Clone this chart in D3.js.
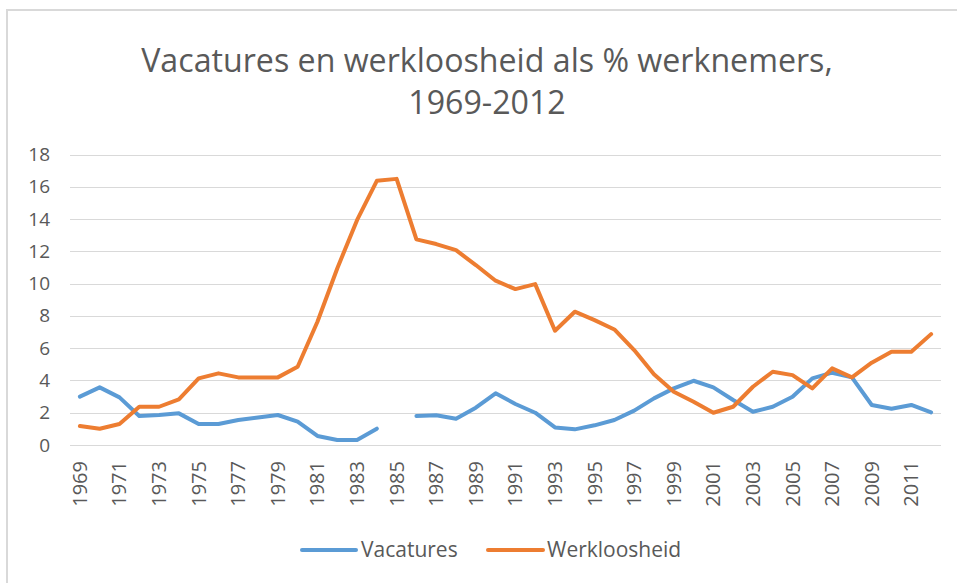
<!DOCTYPE html>
<html><head><meta charset="utf-8">
<script src="https://cdn.jsdelivr.net/npm/d3@7"></script>
<style>body{margin:0;background:#fff}svg{display:block}</style>
</head><body>
<svg id="c" width="957" height="583"></svg>
<script>
const years = d3.range(1969, 2013);
const vacatures = [3.0,3.57,2.95,1.8,1.86,1.96,1.3,1.3,1.55,1.71,1.86,1.45,0.56,0.31,0.31,1.01,null,1.8,1.84,1.63,2.31,3.2,2.54,2.0,1.09,0.97,1.22,1.55,2.13,2.89,3.51,3.98,3.57,2.79,2.06,2.37,2.99,4.13,4.48,4.19,2.48,2.25,2.48,2.02];
const werkloosheid = [1.18,1.01,1.3,2.37,2.37,2.83,4.13,4.44,4.19,4.19,4.19,4.85,7.64,10.94,13.93,16.37,16.49,12.74,12.45,12.07,11.15,10.18,9.66,9.97,7.08,8.26,7.74,7.16,5.88,4.38,3.3,2.68,2.0,2.37,3.61,4.54,4.33,3.51,4.75,4.19,5.1,5.78,5.78,6.87];
const yTicks = [0,2,4,6,8,10,12,14,16,18];
const titleLines = ["Vacatures en werkloosheid als % werknemers,", "1969-2012"];
const seriesNames = ["Vacatures", "Werkloosheid"];
const colors = ["#5B9BD5", "#ED7D31"];

(function(){
const svg = d3.select("#c");
const font = "'Open Sans', sans-serif";
const textColor = "#595959";

svg.append("rect").attr("x",7).attr("y",10).attr("width",970).attr("height",600)
  .attr("fill","none").attr("stroke","#d9d9d9").attr("stroke-width",2);

const pLeft = 70, pRight = 941, pTop = 154.5, pBottom = 445;
const x = d3.scaleBand().domain(years).range([pLeft, pRight]);
const y = d3.scaleLinear().domain([0,18]).range([pBottom, pTop]);

svg.append("g").selectAll("line").data(yTicks).join("line")
  .attr("x1", pLeft).attr("x2", pRight)
  .attr("y1", d => Math.round(y(d))+0.5).attr("y2", d => Math.round(y(d))+0.5)
  .attr("stroke", "#d9d9d9").attr("stroke-width", 1);

const yAxis = svg.append("g").attr("transform", `translate(${pLeft},0)`)
  .call(d3.axisLeft(y).tickValues(yTicks).tickSize(0).tickPadding(20));
yAxis.select(".domain").remove();
yAxis.selectAll("text").attr("font-family", font).attr("font-size", 19).attr("fill", textColor);

const xAxis = svg.append("g").attr("transform", `translate(0,${pBottom})`)
  .call(d3.axisBottom(x).tickValues(years.filter((d,i) => i%2===0)).tickSize(0));
xAxis.select(".domain").remove();
xAxis.selectAll("text")
  .attr("font-family", font).attr("font-size", 20).attr("fill", textColor)
  .attr("transform", "rotate(-90)")
  .attr("text-anchor", "end").attr("dy", "0.35em").attr("x", -16).attr("y", 0);

const cx = d => x(d) + x.bandwidth()/2;
[vacatures, werkloosheid].forEach((s, i) => {
  const line = d3.line().defined(d => d[1] != null).x(d => cx(d[0])).y(d => y(d[1]));
  svg.append("path").datum(years.map((yr, j) => [yr, s[j]]))
    .attr("d", line).attr("fill", "none").attr("stroke", colors[i])
    .attr("stroke-width", 4).attr("stroke-linejoin", "round").attr("stroke-linecap", "round");
});

const title = svg.append("g");
titleLines.forEach((t, i) => {
  title.append("text").attr("x", 487).attr("y", 72 + i*42)
    .attr("text-anchor", "middle").attr("font-family", font).attr("font-size", 29)
    .attr("fill", textColor).text(t);
});
const t0 = title.select("text").node();
const w = t0.getComputedTextLength();
const fs = 29 * 692 / w;
title.selectAll("text").attr("font-size", fs);

const legend = svg.append("g");
const legItems = [{x1:302,x2:356,tx:361},{x1:488,x2:543,tx:547}];
seriesNames.forEach((n, i) => {
  const it = legItems[i];
  legend.append("line").attr("x1", it.x1).attr("x2", it.x2).attr("y1", 550).attr("y2", 550)
    .attr("stroke", colors[i]).attr("stroke-width", 4).attr("stroke-linecap", "round");
  legend.append("text").attr("x", it.tx).attr("y", 550).attr("dy", "0.35em")
    .attr("font-family", font).attr("font-size", 21).attr("fill", textColor).text(n);
});
})();
</script>
</body></html>
